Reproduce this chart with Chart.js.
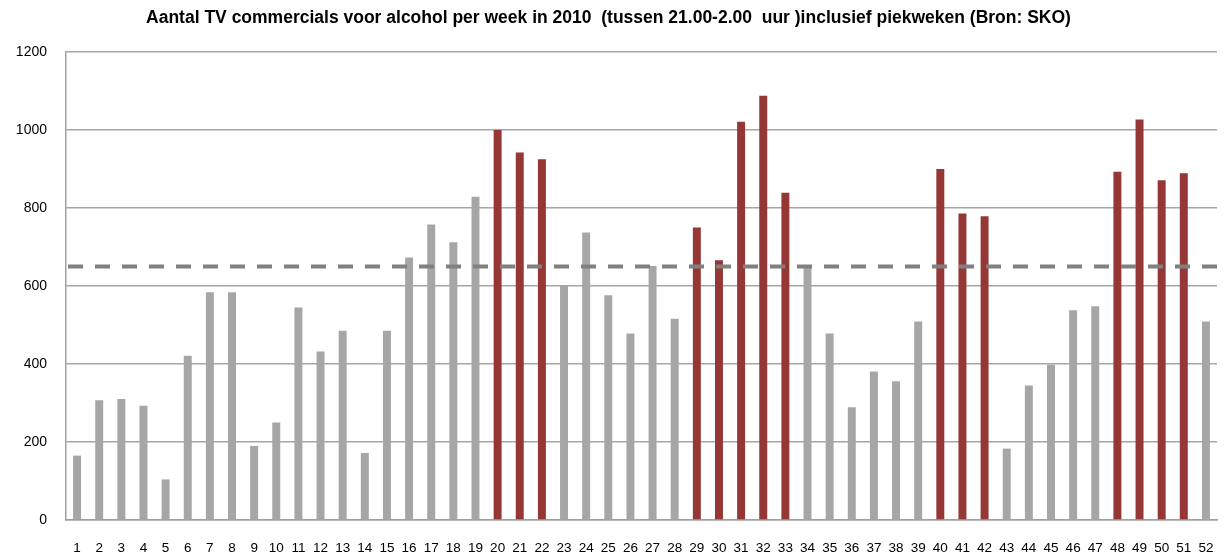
<!DOCTYPE html>
<html>
<head>
<meta charset="utf-8">
<script src="https://cdn.jsdelivr.net/npm/chart.js@4/dist/chart.umd.min.js"></script>
<style>
  html, body { margin: 0; padding: 0; background: #fff; }
  #wrap { width: 1227px; height: 555px; }
</style>
</head>
<body>
<div id="wrap"><canvas id="myChart"></canvas></div>
<script>
// weeks 1..52
const weeks = [];
for (let i = 1; i <= 52; i++) weeks.push(String(i));

// commercials per week
const commercials = [
  165, 307, 310, 293, 104, 421, 584, 584, 190, 250,
  545, 432, 485, 172, 485, 673, 758, 712, 829, 1000,
  942, 925, 600, 737, 576, 478, 651, 516, 750, 666,
  1021, 1088, 839, 651, 478, 289, 381, 356, 509, 900,
  786, 779, 183, 345, 398, 538, 548, 893, 1027, 871,
  889, 509
];

// piekweken (red bars)
const peakWeeks = [20, 21, 22, 29, 30, 31, 32, 33, 40, 41, 42, 48, 49, 50, 51];

const yTicks = [0, 200, 400, 600, 800, 1000, 1200];
const averageLine = 650;

const greyBar = '#a6a6a6';
const redBar = '#953735';

const barColors = weeks.map(w => peakWeeks.includes(Number(w)) ? redBar : greyBar);

// dashed reference line drawn through the y scale
const dashLine = {
  id: 'dashLine',
  afterDatasetsDraw(chart) {
    const ctx = chart.ctx;
    const y = chart.scales.y.getPixelForValue(averageLine);
    ctx.save();
    ctx.strokeStyle = '#808080';
    ctx.lineWidth = 4;
    ctx.setLineDash([15, 12]);
    ctx.beginPath();
    ctx.moveTo(chart.chartArea.left + 2, y);
    ctx.lineTo(chart.width, y);
    ctx.stroke();
    ctx.restore();
  }
};

const ctx = document.getElementById('myChart');

new Chart(ctx, {
  type: 'bar',
  data: {
    labels: weeks,
    datasets: [{
      label: 'Aantal commercials',
      data: commercials,
      backgroundColor: barColors,
      borderWidth: 0,
      barPercentage: 0.36,
      categoryPercentage: 1.0
    }]
  },
  options: {
    responsive: true,
    maintainAspectRatio: false,
    animation: false,
    layout: { padding: { left: 0, right: 10, top: 0, bottom: 0 } },
    plugins: {
      legend: { display: false },
      tooltip: { enabled: false },
      title: {
        display: true,
        text: 'Aantal TV commercials voor alcohol per week in 2010  (tussen 21.00-2.00  uur )inclusief piekweken (Bron: SKO)',
        color: '#000',
        font: { family: 'Liberation Sans', size: 17.5, weight: 'bold' },
        padding: { top: 8, bottom: 23 }
      }
    },
    scales: {
      x: {
        grid: { display: false, drawTicks: false },
        border: { display: true, color: '#a0a0a0', width: 1.5 },
        ticks: {
          color: '#000',
          font: { family: 'Liberation Sans', size: 13.5 },
          padding: 20,
          maxRotation: 0,
          autoSkip: false
        },
        afterFit(scale) {
          scale.height = 35;
          scale.paddingLeft = 0;
          scale.paddingRight = 0;
        }
      },
      y: {
        min: 0,
        max: 1200,
        afterBuildTicks(scale) { scale.ticks = yTicks.map(v => ({ value: v })); },
        grid: { color: '#a6a6a6', lineWidth: 1.5, drawTicks: false },
        border: { display: true, color: '#a0a0a0', width: 1.5 },
        ticks: {
          color: '#000',
          font: { family: 'Liberation Sans', size: 14 },
          padding: 19,
          callback: v => String(v)
        },
        afterFit(scale) { scale.width = 66; }
      }
    }
  },
  plugins: [dashLine]
});
</script>
</body>
</html>
